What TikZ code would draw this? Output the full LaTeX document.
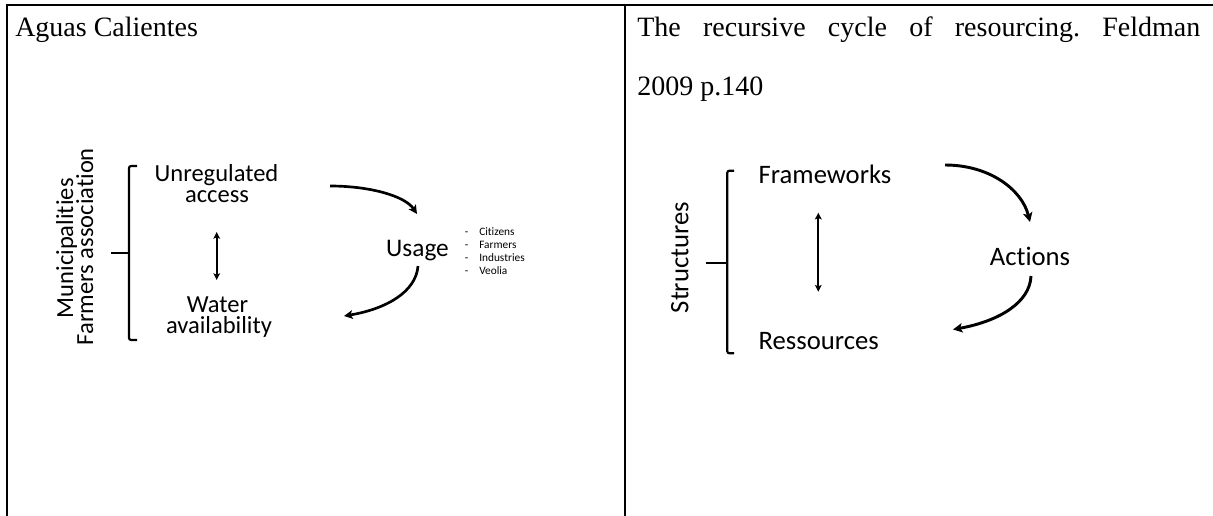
\documentclass[tikz,border=0pt]{standalone}
\usepackage{fontspec}
\setmainfont{Liberation Serif}
\newfontfamily\calib{Carlito}[Ligatures=NoCommon]
\usetikzlibrary{arrows.meta}
\frenchspacing
\begin{document}
\begin{tikzpicture}[x=0.75pt,y=-0.75pt,
  lab/.style={font=\calib\fontsize{18.4}{20}\selectfont, inner sep=0, anchor=base},
  labR/.style={font=\calib\fontsize{20}{22}\selectfont, inner sep=0, anchor=base},
  tiny/.style={font=\calib\fontsize{8.5}{10}\selectfont, inner sep=0, anchor=base west},
  dashmark/.style={font=\calib\fontsize{8.5}{10}\selectfont, inner sep=0, anchor=base},
  title/.style={font=\fontsize{21}{24}\selectfont, inner sep=0, anchor=base west},
  flow/.style={line width=2pt, -{Stealth[length=6.5pt,width=6.5pt,inset=1.5pt]}},
  flowR/.style={line width=2.2pt, -{Stealth[length=7pt,width=7pt,inset=1.5pt]}},
  dbl/.style={line width=1.5pt, {Stealth[length=5pt,width=5pt,inset=1pt]}-{Stealth[length=5pt,width=5pt,inset=1pt]}},
  brk/.style={line width=1.6pt, rounded corners=1.5pt},
  rule/.style={line width=1.5pt}]

\useasboundingbox (0,0) rectangle (1213,516);

% table rules
\coordinate (tlb) at (6.7,516);
\coordinate (tlt) at (6.7,5.3);
\coordinate (trt) at (1213,5.3);
\coordinate (tmt) at (624.7,5.3);
\coordinate (tmb) at (624.7,516);
\draw[rule] (tlb) -- (tlt) -- (trt);
\draw[rule] (tmt) -- (tmb);

% titles
\node[title] (t1) at (15,37) {Aguas Calientes};
\node[title] (t2) at (637,37) {\makebox[422.25pt][s]{The recursive cycle of resourcing. Feldman}};
\node[title] (t3) at (637,96) {2009 p.140};

% left diagram
\node[lab] (ua1) at (216.5,181.5) {Unregulated};
\node[lab] (ua2) at (217,202.5) {access};
\node[lab] (wa1) at (217.5,312.5) {Water};
\node[lab] (wa2) at (219,333.5) {availability};
\node[lab, font=\calib\fontsize{19}{21}\selectfont] (us) at (417.5,256.7) {Usage};
\node[lab, rotate=90] (mu) at (73,248.3) {Municipalities};
\node[lab, rotate=90] (fa) at (93,246.7) {Farmers association};

\node[dashmark] (d1) at (466.7,235.3) {-};
\node[dashmark] (d2) at (466.7,248.7) {-};
\node[dashmark] (d3) at (466.7,261.7) {-};
\node[dashmark] (d4) at (466.7,274.7) {-};
\node[tiny] (l1) at (479,235.3) {Citizens};
\node[tiny] (l2) at (479,248.7) {Farmers};
\node[tiny] (l3) at (479,261.7) {Industries};
\node[tiny] (l4) at (479,274.7) {Veolia};

% left bracket
\coordinate (lb1) at (137,166);
\coordinate (lb2) at (129,166);
\coordinate (lb3) at (129,340);
\coordinate (lb4) at (137,340);
\coordinate (lt1) at (111,253);
\coordinate (lt2) at (129,253);
\draw[brk] (lb1) -- (lb2) -- (lb3) -- (lb4);
\draw[brk] (lt1) -- (lt2);

% left arrows
\coordinate (a1s) at (330,186);
\coordinate (a1e) at (417,214);
\draw[flow] (a1s) .. controls (370,186) and (405,196) .. (a1e);
\coordinate (a2s) at (418,266);
\coordinate (a2e) at (344,316);
\draw[flow] (a2s) .. controls (416,292) and (386,309) .. (a2e);
\coordinate (a3s) at (216.7,232);
\coordinate (a3e) at (216.7,280);
\draw[dbl] (a3s) -- (a3e);

% right diagram
\node[labR] (fw) at (825,183.3) {Frameworks};
\node[labR] (rs) at (818.7,349.3) {Ressources};
\node[labR] (ac) at (1030,266) {Actions};
\node[labR, rotate=90] (st) at (688.3,257.5) {Structures};

\coordinate (rb1) at (734,170.7);
\coordinate (rb2) at (727.3,170.7);
\coordinate (rb3) at (727.3,353.3);
\coordinate (rb4) at (734,353.3);
\coordinate (rt1) at (706,262.7);
\coordinate (rt2) at (727.3,262.7);
\draw[brk] (rb1) -- (rb2) -- (rb3) -- (rb4);
\draw[brk] (rt1) -- (rt2);

\coordinate (b1s) at (945,165);
\coordinate (b1e) at (1030,222);
\draw[flowR] (b1s) .. controls (990,165) and (1022,190) .. (b1e);
\coordinate (b2s) at (1031,276);
\coordinate (b2e) at (953,329.5);
\draw[flowR] (b2s) .. controls (1030,302) and (1000,321) .. (b2e);
\coordinate (b3s) at (818.3,212.7);
\coordinate (b3e) at (818.3,291.7);
\draw[dbl] (b3s) -- (b3e);

\end{tikzpicture}
\end{document}
